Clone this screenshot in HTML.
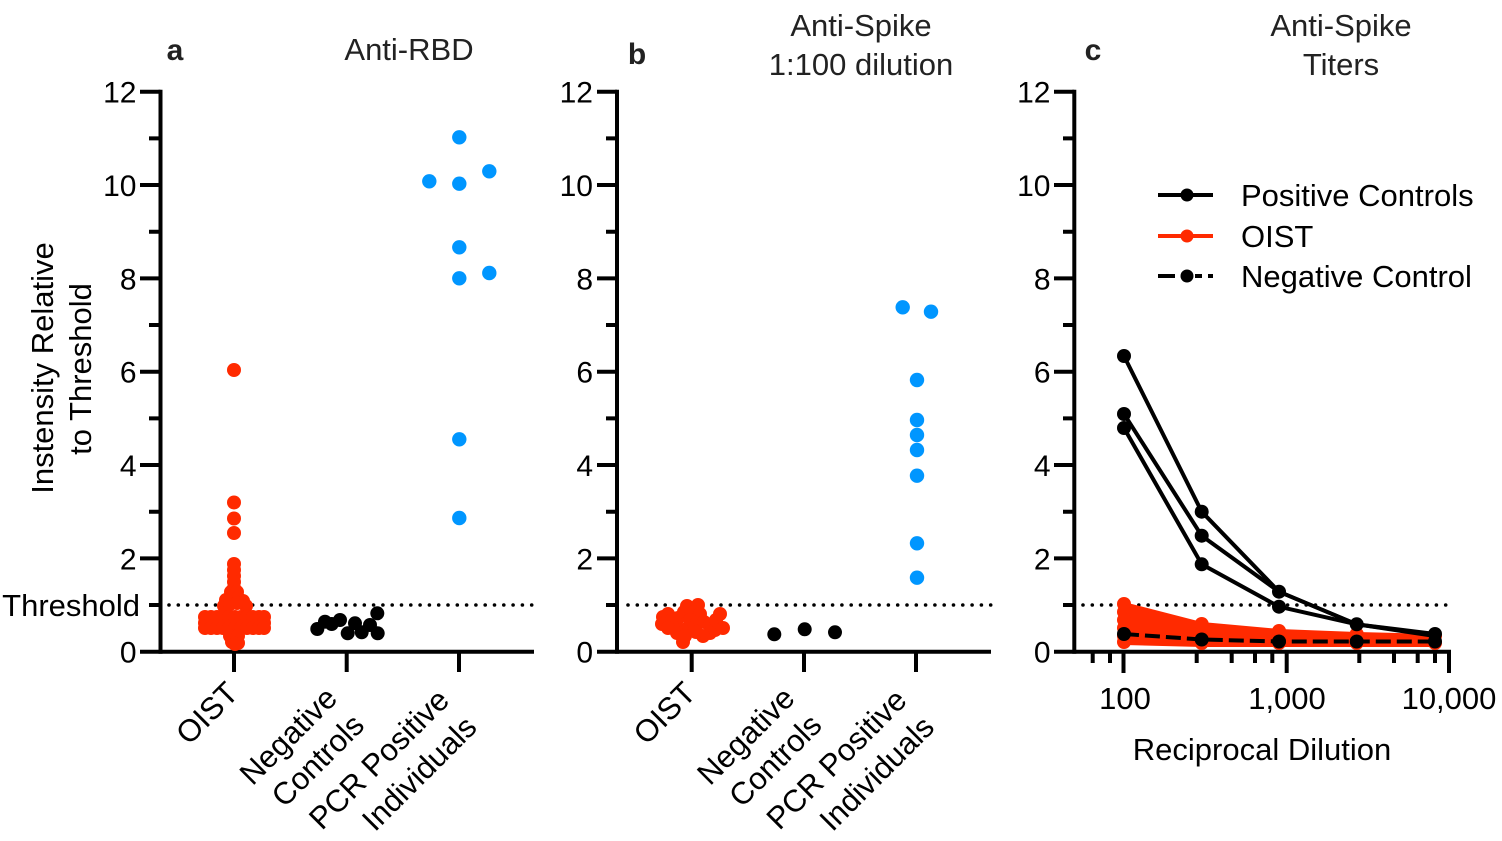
<!DOCTYPE html>
<html>
<head>
<meta charset="utf-8">
<style>
  html,body{margin:0;padding:0;background:#fff;}
  svg{display:block;}
  text{font-family:"Liberation Sans", Arial, sans-serif;}
</style>
</head>
<body>
<svg width="1502" height="841" viewBox="0 0 1502 841" xmlns="http://www.w3.org/2000/svg">
  <rect width="1502" height="841" fill="#fff"/>

  <!-- ===== Titles ===== -->
  <g fill="#222" font-size="31" text-anchor="middle">
    <text x="409" y="60">Anti-RBD</text>
    <text x="861" y="36">Anti-Spike</text>
    <text x="861" y="75">1:100 dilution</text>
    <text x="1341" y="36">Anti-Spike</text>
    <text x="1341" y="75">Titers</text>
  </g>
  <g fill="#222" font-size="30" font-weight="bold" text-anchor="middle">
    <text x="175" y="60">a</text>
    <text x="637" y="64">b</text>
    <text x="1093" y="60">c</text>
  </g>

  <!-- ===== Y axis title ===== -->
  <g fill="#000" font-size="31" text-anchor="middle">
    <text transform="translate(53,368) rotate(-90)">Instensity Relative</text>
    <text transform="translate(91,369) rotate(-90)">to Threshold</text>
    <text x="140" y="616" text-anchor="end">Threshold</text>
  </g>

  <!-- ===== Threshold dotted lines ===== -->
  <g stroke="#000" stroke-width="3.6" stroke-linecap="round" stroke-dasharray="0 9.3" fill="none">
    <line x1="169" y1="605" x2="534" y2="605"/>
    <line x1="628" y1="605" x2="991" y2="605"/>
    <line x1="1083" y1="605" x2="1450" y2="605"/>
  </g>

  <!-- ===== Panel a axes ===== -->
  <g stroke="#000" stroke-width="4" fill="none">
    <path d="M160.5,89.7 V653.7"/>
    <path d="M140,651.7 H534"/>
    <path d="M140,91.7 H160.5 M140,185 H160.5 M140,278.4 H160.5 M140,371.7 H160.5 M140,465 H160.5 M140,558.4 H160.5"/>
    <path d="M149,138.4 H160.5 M149,231.7 H160.5 M149,325 H160.5 M149,418.4 H160.5 M149,511.7 H160.5 M149,605 H160.5"/>
    <path d="M234,651.7 V672 M346.7,651.7 V672 M459,651.7 V672"/>
  </g>
  <!-- ===== Panel b axes ===== -->
  <g stroke="#000" stroke-width="4" fill="none">
    <path d="M617,89.7 V653.7"/>
    <path d="M597,651.7 H991"/>
    <path d="M597,91.7 H617 M597,185 H617 M597,278.4 H617 M597,371.7 H617 M597,465 H617 M597,558.4 H617"/>
    <path d="M606,138.4 H617 M606,231.7 H617 M606,325 H617 M606,418.4 H617 M606,511.7 H617 M606,605 H617"/>
    <path d="M691.7,651.7 V672 M804,651.7 V672 M916,651.7 V672"/>
  </g>
  <!-- ===== Panel c axes ===== -->
  <g stroke="#000" stroke-width="4" fill="none">
    <path d="M1074.3,89.7 V653.7"/>
    <path d="M1054,651.7 H1451"/>
    <path d="M1054,91.7 H1074.3 M1054,185 H1074.3 M1054,278.4 H1074.3 M1054,371.7 H1074.3 M1054,465 H1074.3 M1054,558.4 H1074.3"/>
    <path d="M1063,138.4 H1074.3 M1063,231.7 H1074.3 M1063,325 H1074.3 M1063,418.4 H1074.3 M1063,511.7 H1074.3 M1063,605 H1074.3"/>
    <path d="M1123.5,651.7 V673 M1286.7,651.7 V673 M1449,651.7 V673"/>
    <path d="M1092.7,651.7 V663 M1110,651.7 V663 M1196.7,651.7 V663 M1231.7,651.7 V663 M1255,651.7 V663 M1272.3,651.7 V663 M1359.3,651.7 V663 M1394,651.7 V663 M1417.7,651.7 V663 M1435,651.7 V663"/>
  </g>

  <!-- ===== Y tick labels ===== -->
  <g fill="#000" font-size="30" text-anchor="end">
    <text x="136.5" y="102.7">12</text>
    <text x="136.5" y="196">10</text>
    <text x="136.5" y="289.4">8</text>
    <text x="136.5" y="382.7">6</text>
    <text x="136.5" y="476">4</text>
    <text x="136.5" y="569.4">2</text>
    <text x="136.5" y="662.7">0</text>

    <text x="593" y="102.7">12</text>
    <text x="593" y="196">10</text>
    <text x="593" y="289.4">8</text>
    <text x="593" y="382.7">6</text>
    <text x="593" y="476">4</text>
    <text x="593" y="569.4">2</text>
    <text x="593" y="662.7">0</text>

    <text x="1050.5" y="102.7">12</text>
    <text x="1050.5" y="196">10</text>
    <text x="1050.5" y="289.4">8</text>
    <text x="1050.5" y="382.7">6</text>
    <text x="1050.5" y="476">4</text>
    <text x="1050.5" y="569.4">2</text>
    <text x="1050.5" y="662.7">0</text>
  </g>

  <!-- ===== X category labels (rotated) ===== -->
  <g fill="#000" font-size="31" text-anchor="end">
    <text transform="translate(240,695) rotate(-45)">OIST</text>
    <text transform="translate(339,700) rotate(-45)">Negative</text>
    <text transform="translate(366,727) rotate(-45)">Controls</text>
    <text transform="translate(451,702) rotate(-45)">PCR Positive</text>
    <text transform="translate(478.5,729) rotate(-45)">Individuals</text>

    <text transform="translate(697.5,695) rotate(-45)">OIST</text>
    <text transform="translate(796.5,700) rotate(-45)">Negative</text>
    <text transform="translate(823.5,727) rotate(-45)">Controls</text>
    <text transform="translate(908.5,702) rotate(-45)">PCR Positive</text>
    <text transform="translate(936,729) rotate(-45)">Individuals</text>
  </g>

  <!-- ===== Panel c x labels ===== -->
  <g fill="#000" font-size="31" text-anchor="middle">
    <text x="1125" y="709">100</text>
    <text x="1287" y="709">1,000</text>
    <text x="1449" y="709">10,000</text>
    <text x="1262" y="760">Reciprocal Dilution</text>
  </g>

  <!-- ===== Panel a data ===== -->
  <g fill="#ff2a00">
    <circle cx="234" cy="370" r="7"/>
    <circle cx="234" cy="502.5" r="7"/>
    <circle cx="234" cy="518.5" r="7"/>
    <circle cx="234" cy="533" r="7"/>
    <circle cx="234" cy="564" r="7"/>
    <circle cx="234" cy="570" r="7"/>
    <circle cx="234" cy="576" r="7"/>
    <circle cx="234" cy="582" r="7"/>
    <circle cx="234" cy="588" r="7"/>
    <circle cx="231" cy="592" r="7"/>
    <circle cx="237" cy="592" r="7"/>
    <circle cx="226" cy="600" r="7"/>
    <circle cx="232" cy="598" r="7"/>
    <circle cx="238" cy="598" r="7"/>
    <circle cx="243" cy="601" r="7"/>
    <circle cx="224" cy="606" r="7"/>
    <circle cx="246" cy="606" r="7"/>
    <circle cx="230" cy="604" r="7"/>
    <circle cx="237" cy="603" r="7"/>
    <rect x="205" y="617" width="59" height="11" />
    <circle cx="205" cy="617" r="7"/><circle cx="205" cy="623" r="7"/><circle cx="205" cy="628" r="7"/>
    <circle cx="211" cy="617" r="7"/><circle cx="211" cy="628" r="7"/>
    <circle cx="217" cy="617" r="7"/><circle cx="217" cy="628" r="7"/>
    <circle cx="223" cy="617" r="7"/><circle cx="223" cy="628" r="7"/>
    <circle cx="229" cy="617" r="7"/><circle cx="229" cy="628" r="7"/>
    <circle cx="235" cy="617" r="7"/><circle cx="235" cy="628" r="7"/>
    <circle cx="241" cy="617" r="7"/><circle cx="241" cy="628" r="7"/>
    <circle cx="247" cy="617" r="7"/><circle cx="247" cy="628" r="7"/>
    <circle cx="253" cy="617" r="7"/><circle cx="253" cy="628" r="7"/>
    <circle cx="259" cy="617" r="7"/><circle cx="259" cy="628" r="7"/>
    <circle cx="264" cy="617" r="7"/><circle cx="264" cy="623" r="7"/><circle cx="264" cy="628" r="7"/>
    <circle cx="230" cy="636" r="7"/>
    <circle cx="238" cy="636" r="7"/>
    <circle cx="232" cy="642" r="7"/>
    <circle cx="238" cy="643" r="7"/>
    <circle cx="235" cy="644" r="7"/>
  </g>
  <g fill="#000">
    <circle cx="317.3" cy="629" r="7"/>
    <circle cx="325" cy="621.7" r="7"/>
    <circle cx="331.7" cy="624" r="7"/>
    <circle cx="340" cy="620" r="7"/>
    <circle cx="347.7" cy="633.3" r="7"/>
    <circle cx="355" cy="623.3" r="7"/>
    <circle cx="361.7" cy="632.3" r="7"/>
    <circle cx="370" cy="625" r="7"/>
    <circle cx="377.3" cy="613.3" r="7"/>
    <circle cx="377.7" cy="633.3" r="7"/>
  </g>
  <g fill="#0096ff">
    <circle cx="459.3" cy="137.3" r="7.2"/>
    <circle cx="489.3" cy="171.3" r="7.2"/>
    <circle cx="429.3" cy="181.3" r="7.2"/>
    <circle cx="459.3" cy="183.7" r="7.2"/>
    <circle cx="459.3" cy="247.3" r="7.2"/>
    <circle cx="489.3" cy="273" r="7.2"/>
    <circle cx="459.3" cy="278.3" r="7.2"/>
    <circle cx="459.3" cy="439.3" r="7.2"/>
    <circle cx="459.3" cy="518" r="7.2"/>
  </g>

  <!-- ===== Panel b data ===== -->
  <g fill="#ff2a00">
    <circle cx="663" cy="617" r="7"/>
    <circle cx="662" cy="624" r="7"/>
    <circle cx="668" cy="614" r="7"/>
    <circle cx="672" cy="620" r="7"/>
    <circle cx="678" cy="618" r="7"/>
    <circle cx="684" cy="612" r="7"/>
    <circle cx="687" cy="606" r="7"/>
    <circle cx="698" cy="605" r="7"/>
    <circle cx="694" cy="612" r="7"/>
    <circle cx="700" cy="614" r="7"/>
    <circle cx="690" cy="620" r="7"/>
    <circle cx="696" cy="624" r="7"/>
    <circle cx="704" cy="622" r="7"/>
    <circle cx="710" cy="625" r="7"/>
    <circle cx="716" cy="620" r="7"/>
    <circle cx="720" cy="614" r="7"/>
    <circle cx="723" cy="628" r="7"/>
    <circle cx="715" cy="630" r="7"/>
    <circle cx="710" cy="633" r="7"/>
    <circle cx="703" cy="636" r="7"/>
    <circle cx="696" cy="632" r="7"/>
    <circle cx="688" cy="628" r="7"/>
    <circle cx="682" cy="630" r="7"/>
    <circle cx="677" cy="633" r="7"/>
    <circle cx="683" cy="642" r="7"/>
    <circle cx="685" cy="636" r="7"/>
    <circle cx="672" cy="626" r="7"/>
    <circle cx="668" cy="628" r="7"/>
  </g>
  <g fill="#000">
    <circle cx="774.3" cy="634.3" r="7"/>
    <circle cx="804.7" cy="629.3" r="7"/>
    <circle cx="835" cy="632.3" r="7"/>
  </g>
  <g fill="#0096ff">
    <circle cx="902.7" cy="307.3" r="7.2"/>
    <circle cx="931" cy="311.7" r="7.2"/>
    <circle cx="917" cy="380" r="7.2"/>
    <circle cx="917" cy="420" r="7.2"/>
    <circle cx="917" cy="435" r="7.2"/>
    <circle cx="917" cy="450" r="7.2"/>
    <circle cx="917" cy="475.7" r="7.2"/>
    <circle cx="917" cy="543.3" r="7.2"/>
    <circle cx="917" cy="577.7" r="7.2"/>
  </g>

  <!-- ===== Panel c data ===== -->
  <polygon points="1124,604 1201.7,624 1279,631 1356.7,634 1435,636 1435,645 1356.7,645 1279,645 1201.7,645 1124,643"
           fill="#ff2a00" stroke="#ff2a00" stroke-width="4" stroke-linejoin="round"/>
  <g fill="#ff2a00">
    <circle cx="1124" cy="604" r="7"/>
    <circle cx="1124" cy="612" r="7"/>
    <circle cx="1124" cy="620" r="7"/>
    <circle cx="1124" cy="628" r="7"/>
    <circle cx="1124" cy="636" r="7"/>
    <circle cx="1124" cy="642" r="7"/>
    <circle cx="1201.7" cy="624" r="7"/>
    <circle cx="1201.7" cy="643" r="7"/>
    <circle cx="1279" cy="631" r="7"/>
    <circle cx="1279" cy="643" r="7"/>
    <circle cx="1356.7" cy="634" r="7"/>
    <circle cx="1356.7" cy="643" r="7"/>
    <circle cx="1435" cy="636" r="7"/>
    <circle cx="1435" cy="643" r="7"/>
  </g>

  <g stroke="#000" stroke-width="4" fill="none" stroke-linejoin="round">
    <polyline points="1124,356 1201.7,511.7 1279,591.7 1356.7,624.3 1435,634"/>
    <polyline points="1124,414 1201.7,535.7 1279,591.7 1356.7,624.3 1435,635"/>
    <polyline points="1124,428 1201.7,564.3 1279,606.7 1356.7,624.3 1435,636"/>
  </g>
  <g fill="#000">
    <circle cx="1124" cy="356" r="7"/>
    <circle cx="1124" cy="414" r="7"/>
    <circle cx="1124" cy="428" r="7"/>
    <circle cx="1201.7" cy="511.7" r="7"/>
    <circle cx="1201.7" cy="535.7" r="7"/>
    <circle cx="1201.7" cy="564.3" r="7"/>
    <circle cx="1279" cy="591.7" r="7"/>
    <circle cx="1279" cy="606.7" r="7"/>
    <circle cx="1356.7" cy="624.3" r="7"/>
    <circle cx="1435" cy="634" r="7"/>
  </g>

  <polyline points="1124,634 1201.7,639.5 1279,641.5 1356.7,641.5 1435,641.5"
            stroke="#000" stroke-width="4" fill="none" stroke-dasharray="15 6"/>
  <g fill="#000">
    <circle cx="1124" cy="634" r="7"/>
    <circle cx="1201.7" cy="639.5" r="7"/>
    <circle cx="1279" cy="641.5" r="7"/>
    <circle cx="1356.7" cy="641.5" r="7"/>
    <circle cx="1435" cy="641.5" r="7"/>
  </g>

  <!-- ===== Legend ===== -->
  <g stroke-width="4" fill="none">
    <line x1="1158" y1="195" x2="1213" y2="195" stroke="#000"/>
    <line x1="1158" y1="236" x2="1213" y2="236" stroke="#ff2a00"/>
    <path d="M1158,276 H1175 M1195,276 H1202 M1208,276 H1213" stroke="#000"/>
  </g>
  <circle cx="1187" cy="195" r="6.5" fill="#000"/>
  <circle cx="1187" cy="236" r="6.5" fill="#ff2a00"/>
  <circle cx="1187" cy="276" r="6.5" fill="#000"/>
  <g fill="#000" font-size="31">
    <text x="1241" y="206">Positive Controls</text>
    <text x="1241" y="247">OIST</text>
    <text x="1241" y="287">Negative Control</text>
  </g>
</svg>
</body>
</html>
